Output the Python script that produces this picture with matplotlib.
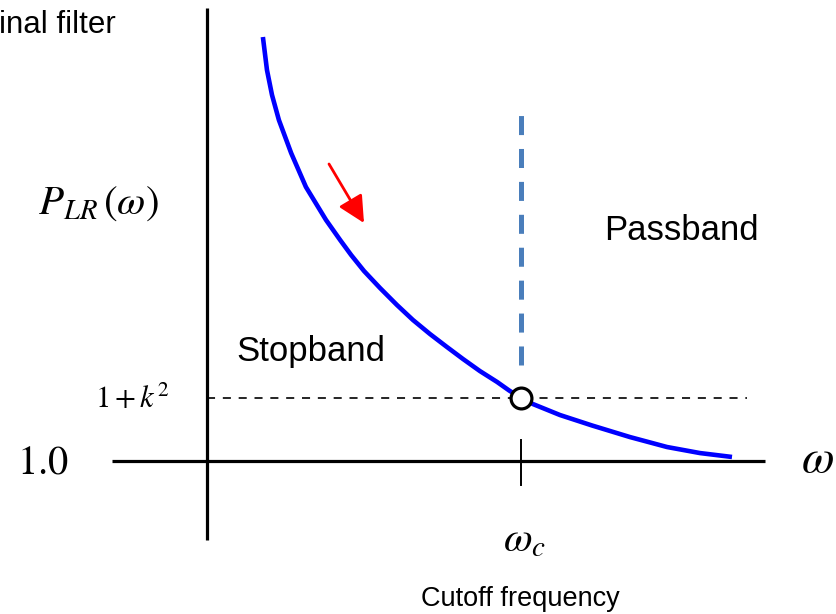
import matplotlib
matplotlib.use("Agg")
import matplotlib.pyplot as plt
from matplotlib.patches import FancyArrowPatch

plt.rcParams['mathtext.fontset'] = 'stix'
plt.rcParams['font.family'] = ['Liberation Sans', 'DejaVu Sans']

# ---- data (omega normalised to omega_c, P_LR on arbitrary scale) ----
omega = [0.178, 0.191, 0.207, 0.229, 0.268, 0.315, 0.379, 0.424, 0.459,
         0.500, 0.551, 0.605, 0.656, 0.710, 0.764, 0.815, 0.869, 0.924,
         0.962, 1.000, 1.038, 1.124, 1.226, 1.347, 1.465, 1.570, 1.672]
p_lr = [4.365, 4.103, 3.905, 3.706, 3.444, 3.175, 2.913, 2.754, 2.635,
        2.508, 2.373, 2.238, 2.119, 2.008, 1.905, 1.810, 1.714, 1.627,
        1.560, 1.500, 1.452, 1.365, 1.282, 1.190, 1.111, 1.063, 1.032]
omega_c = 1.0
level_1k2 = 1.5      # 1 + k^2
level_base = 1.0

W, H = 837, 614
fig = plt.figure(figsize=(W / 100, H / 100), dpi=100)
ax = fig.add_axes([0, 0, 1, 1])
ax.set_axis_off()

# pixel -> data helpers (for layout only)
SX, SY = 314.0, 126.0
X0, Y0 = 207.0, 461.0
def dx(xp):
    return (xp - X0) / SX
def dy(yp):
    return 1 + (Y0 - yp) / SY

ax.set_xlim(dx(0), dx(W))
ax.set_ylim(dy(H), dy(0))

# axes
ax.plot([0, 0], [dy(540), dy(8)], color='black', lw=2.3, solid_capstyle='butt')
ax.plot([dx(112), dx(765)], [level_base, level_base], color='black', lw=2.3,
        solid_capstyle='butt')
# tick at omega_c
ax.plot([omega_c, omega_c], [dy(485), dy(440)], color='black', lw=1.4)

# blue dashed cutoff line
lw_b = 3.6
ax.plot([omega_c, omega_c], [dy(365), dy(113)], color='#4a7ebb', lw=lw_b,
        dashes=(13.7 / lw_b, 10.0 / lw_b), solid_capstyle='butt', dash_capstyle='butt')

# black dashed 1+k^2 line
lw_k = 1.2
ax.plot([0, dx(747)], [level_1k2, level_1k2], color='black', lw=lw_k,
        dashes=(5.8 / lw_k, 5.6 / lw_k), dash_capstyle='butt')

# curve
ax.plot(omega, p_lr, color='#0000ff', lw=3.3, solid_capstyle='butt',
        solid_joinstyle='round', zorder=3)

# circle marker
ax.plot([omega_c], [level_1k2], marker='o', markersize=15, markerfacecolor='white',
        markeredgecolor='black', markeredgewidth=2.3, zorder=4)

# red arrow
arr = FancyArrowPatch((dx(329), dy(164)), (dx(364), dy(223)),
                      arrowstyle='-|>,head_length=0.9,head_width=0.45',
                      color='#ff0000', lw=2.0, mutation_scale=18, shrinkA=0, shrinkB=0)
ax.add_patch(arr)

# texts
ax.text(dx(-1), dy(25), 'inal filter', fontsize=22.5, ha='left', va='center')
ax.text(dx(98), dy(204), r'$P_{LR}\,\left(\omega\right)$', fontsize=29.5,
        ha='center', va='center')
ax.text(dx(681), dy(230), 'Passband', fontsize=25, ha='center', va='center')
ax.text(dx(311), dy(352), 'Stopband', fontsize=25, ha='center', va='center')
ax.text(dx(132), dy(400), r'$1+k^2$', fontsize=22, ha='center', va='center')
ax.text(dx(43), dy(462), r'$\mathrm{1.0}$', fontsize=29, ha='center', va='center')
ax.text(dx(817), dy(460), r'$\omega$', fontsize=34, ha='center', va='center')
ax.text(dx(524), dy(540), r'$\omega_c$', fontsize=30, ha='center', va='center')
ax.text(dx(520), dy(599), 'Cutoff frequency', fontsize=19.5, ha='center', va='center')

fig.savefig('out.png', dpi=100)
